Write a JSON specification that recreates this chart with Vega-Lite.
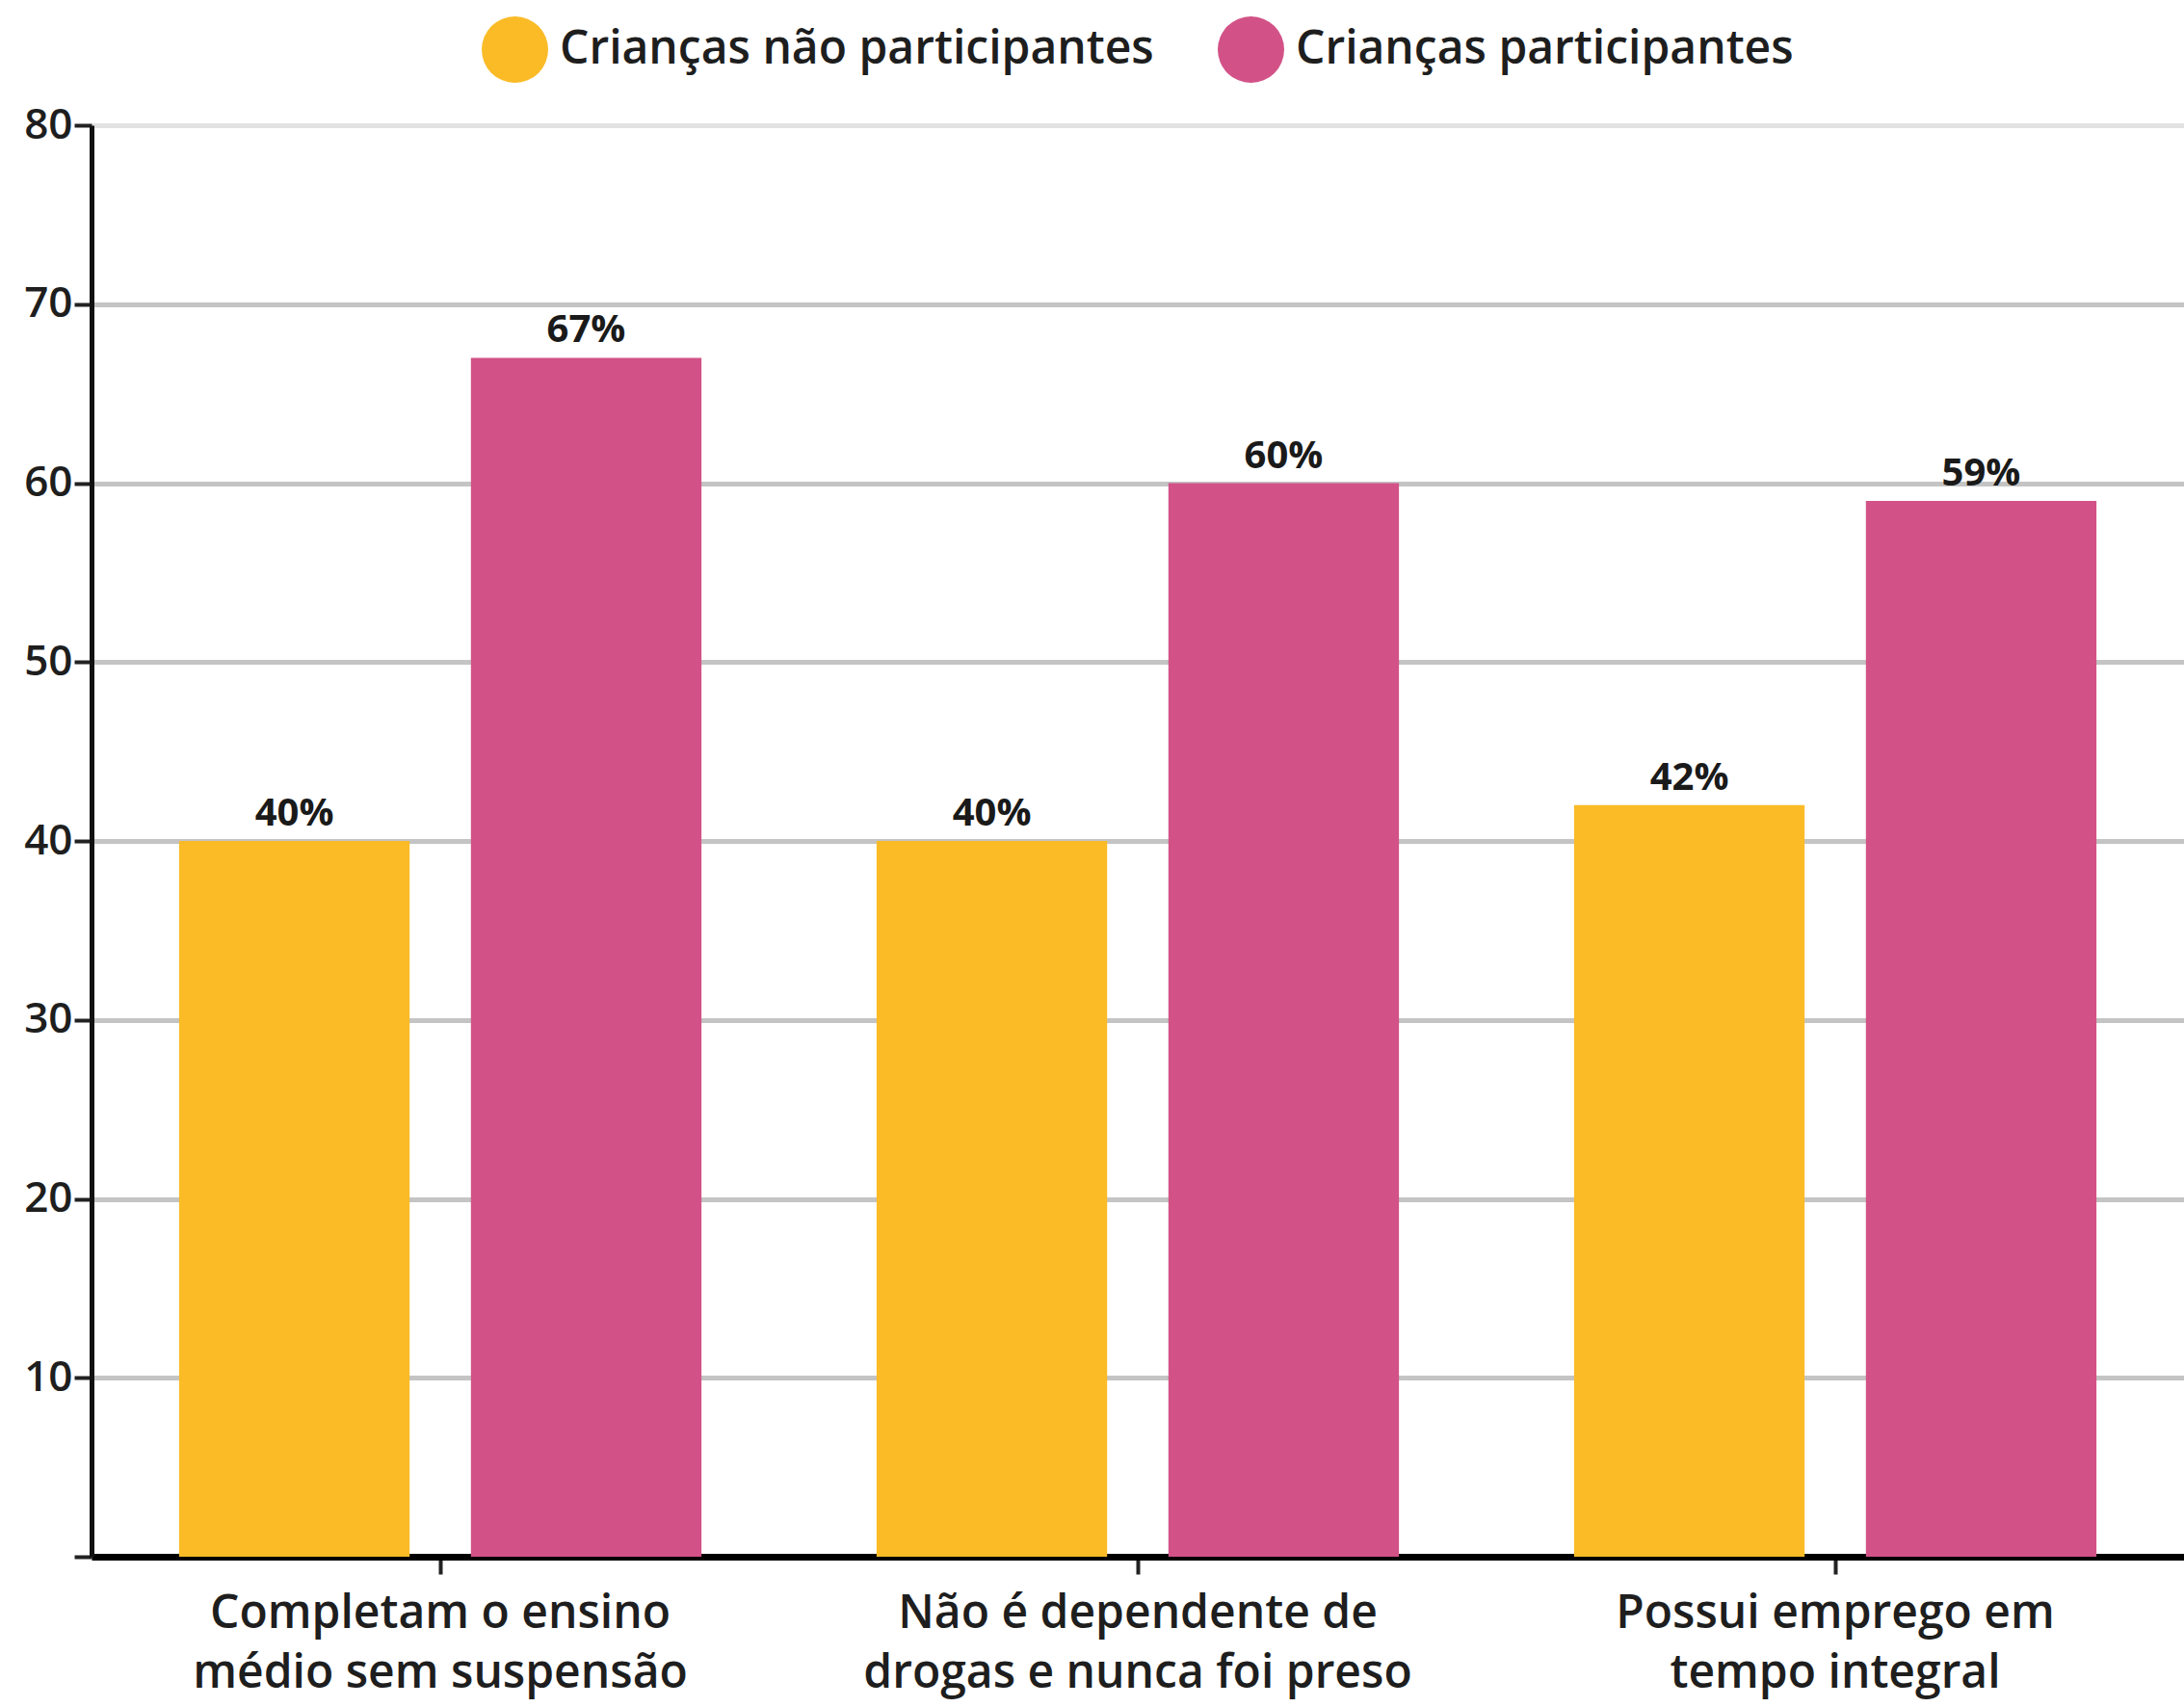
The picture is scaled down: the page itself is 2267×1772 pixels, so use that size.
{
  "$schema": "https://vega.github.io/schema/vega-lite/v6.json",
  "width": 2172,
  "height": 1486,
  "autosize": {"type": "none"},
  "padding": {"left": 95, "top": 130, "right": 0, "bottom": 156},
  "background": "white",
  "config": {
    "view": {"stroke": null},
    "font": "Open Sans, sans-serif"
  },
  "data": {
    "values": [
      {"grupo": "Completam o ensino|médio sem suspensão", "serie": "Crianças não participantes", "valor": 40, "rotulo": "40%"},
      {"grupo": "Completam o ensino|médio sem suspensão", "serie": "Crianças participantes", "valor": 67, "rotulo": "67%"},
      {"grupo": "Não é dependente de|drogas e nunca foi preso", "serie": "Crianças não participantes", "valor": 40, "rotulo": "40%"},
      {"grupo": "Não é dependente de|drogas e nunca foi preso", "serie": "Crianças participantes", "valor": 60, "rotulo": "60%"},
      {"grupo": "Possui emprego em|tempo integral", "serie": "Crianças não participantes", "valor": 42, "rotulo": "42%"},
      {"grupo": "Possui emprego em|tempo integral", "serie": "Crianças participantes", "valor": 59, "rotulo": "59%"}
    ]
  },
  "encoding": {
    "x": {
      "field": "grupo",
      "type": "nominal",
      "sort": null,
      "scale": {"paddingInner": 0, "paddingOuter": 0},
      "axis": {
        "title": null,
        "labelAngle": 0,
        "labelExpr": "split(datum.label, '|')",
        "labelFontSize": 48,
        "labelFontWeight": 600,
        "labelColor": "#1e1e1e",
        "labelLineHeight": 62,
        "labelBaseline": "top",
        "labelPadding": 17,
        "labelLimit": 0,
        "domainColor": "#000000",
        "domainWidth": 7,
        "tickColor": "#222222",
        "tickWidth": 4,
        "tickSize": 18,
        "grid": false
      }
    },
    "xOffset": {
      "field": "serie",
      "type": "nominal",
      "sort": ["Crianças não participantes", "Crianças participantes"],
      "scale": {"paddingInner": 0.21, "paddingOuter": 0.3}
    },
    "y": {
      "field": "valor",
      "type": "quantitative",
      "scale": {"domain": [0, 80], "nice": false},
      "axis": {
        "title": null,
        "values": [0, 10, 20, 30, 40, 50, 60, 70, 80],
        "labelExpr": "datum.value === 0 ? '' : datum.label",
        "labelFontSize": 44,
        "labelFontWeight": 600,
        "labelColor": "#1e1e1e",
        "labelPadding": 2,
        "domainColor": "#111111",
        "domainWidth": 5,
        "tickColor": "#222222",
        "tickWidth": 4,
        "tickSize": 18,
        "grid": true,
        "gridColor": {"condition": {"test": "datum.value === 80", "value": "#e2e2e2"}, "value": "#c4c4c4"},
        "gridWidth": 5
      }
    }
  },
  "layer": [
    {
      "mark": {"type": "bar"},
      "encoding": {
        "color": {
          "field": "serie",
          "type": "nominal",
          "scale": {
            "domain": ["Crianças não participantes", "Crianças participantes"],
            "range": ["#FABB27", "#D25287"]
          },
          "legend": {
            "title": null,
            "orient": "none",
            "legendX": 405,
            "legendY": -113,
            "direction": "horizontal",
            "symbolType": "circle",
            "symbolSize": 4761,
            "symbolStrokeWidth": 0,
            "labelFontSize": 48,
            "labelFontWeight": 600,
            "labelColor": "#1e1e1e",
            "labelOffset": 12,
            "labelLimit": 0,
            "columnPadding": 66
          }
        }
      }
    },
    {
      "mark": {"type": "text", "baseline": "bottom", "dy": -8, "fontSize": 40, "fontWeight": "bold", "color": "#1a1a1a"},
      "encoding": {"text": {"field": "rotulo", "type": "nominal"}}
    }
  ]
}
